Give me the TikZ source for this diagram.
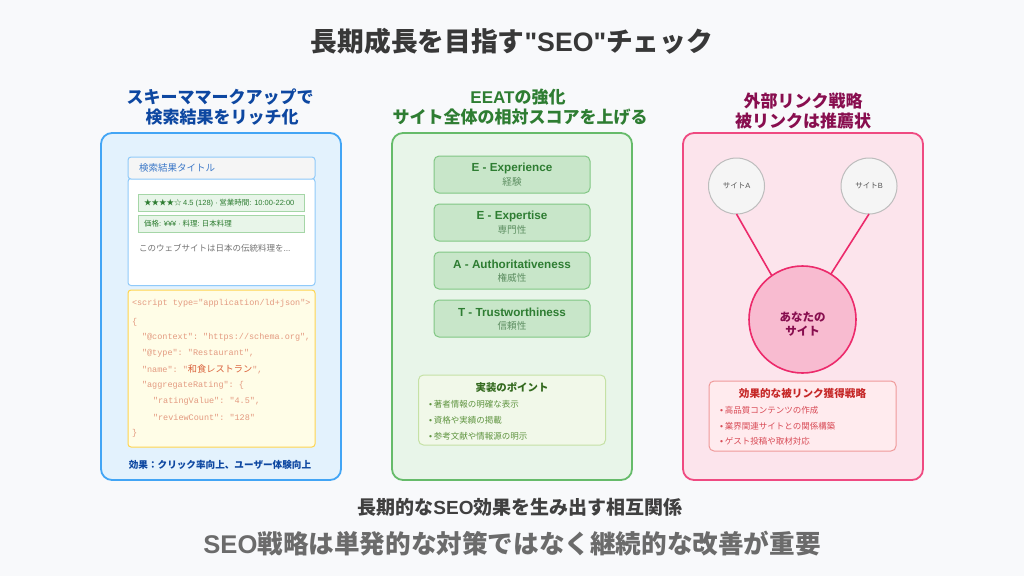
\documentclass[tikz,border=0pt]{standalone}
\usepackage{fontspec}
\setmainfont{Noto Sans CJK JP}
\setmonofont{Liberation Mono}
\newfontfamily\latinfont{Liberation Sans}
\newcommand{\ltn}[1]{{\latinfont #1}}
\newcommand{\fsz}[1]{\fontsize{#1}{#1}\selectfont}
\definecolor{pagebg}{HTML}{F8F9FB}
\definecolor{bluedark}{HTML}{0D47A1}
\definecolor{greendark}{HTML}{2E7D32}
\definecolor{pinkdark}{HTML}{880E4F}
\definecolor{pinkline}{HTML}{EC2A6B}
\definecolor{codetext}{HTML}{E39A80}
\definecolor{codename}{HTML}{D9603A}
\definecolor{eeatline}{HTML}{81C784}
\definecolor{eeatfill}{HTML}{C8E6C9}
\definecolor{eeatsubc}{HTML}{5E8F62}
\definecolor{chipline}{HTML}{A5D6A7}
\definecolor{chipfill}{HTML}{E8F5E9}
\definecolor{tipgreenc}{HTML}{5F9440}
\definecolor{tipredc}{HTML}{D84A55}
\definecolor{sitecline}{HTML}{BDBDBD}
\definecolor{sitefill}{HTML}{F5F5F5}
\definecolor{sitetext}{HTML}{555555}
\definecolor{blueline}{HTML}{42A5F5}
\definecolor{bluefill}{HTML}{E3F2FD}
\definecolor{greenline}{HTML}{66BB6A}
\definecolor{greenfill}{HTML}{E8F5E9}
\definecolor{pinkfill}{HTML}{FCE4EC}
\definecolor{resultline}{HTML}{90CAF9}
\definecolor{resulttext}{HTML}{3C78C8}
\definecolor{codeline}{HTML}{FFD54F}
\definecolor{codefill}{HTML}{FFFDE7}
\definecolor{tipsgline}{HTML}{C5E1A5}
\definecolor{tipsgfill}{HTML}{F1F8E9}
\definecolor{tipsgtitle}{HTML}{33691E}
\definecolor{tipsrline}{HTML}{EF9A9A}
\definecolor{tipsrfill}{HTML}{FFEBEE}
\definecolor{tipsrtitle}{HTML}{C62828}
\definecolor{mysitefill}{HTML}{F8BBD0}
\begin{document}
\begin{tikzpicture}[%
    x=1pt,
    y=-1pt,
    every node/.style={inner sep=0pt,outer sep=0pt},
    heading/.style={font=\fsz{17}\bfseries,align=center},
    panel/.style={draw,line width=1.8pt,rounded corners=11pt,minimum width=240pt,minimum height=347pt},
    eeatcard/.style={draw=eeatline,fill=eeatfill,line width=1pt,rounded corners=5pt,minimum width=156pt,minimum height=37pt},
    eeattitle/.style={font=\fsz{11.7}\bfseries,text=greendark},
    eeatsub/.style={font=\fsz{9.6},text=eeatsubc},
    chipbox/.style={draw=chipline,fill=chipfill,line width=.8pt,minimum width=166pt,minimum height=17pt},
    chiptext/.style={font=\fsz{7.5},text=greendark,anchor=west},
    codestyle/.style={font=\ttfamily\fsz{8.5},text=codetext,anchor=west},
    resultframe/.style={draw=resultline,line width=1pt,rounded corners=3pt,minimum width=187pt},
    tipbox/.style={draw,line width=1pt,rounded corners=5pt,minimum width=187pt,minimum height=70pt},
    tipgreen/.style={font=\fsz{8.5},text=tipgreenc,anchor=west},
    tipred/.style={font=\fsz{8.5},text=tipredc,anchor=west},
    sitecircle/.style={circle,draw=sitecline,fill=sitefill,line width=1pt,minimum size=56pt,font=\fsz{7.5},text=sitetext},
    linkline/.style={draw=pinkline,line width=1.6pt}
  ]
  \fill[pagebg] (0,0) rectangle (1024,576);

  \node[font=\fsz{26.7}\bfseries,text=black!78] (title) at (512,41) {長期成長を目指す\ltn{"SEO"}チェック};

  \node[heading,text=bluedark] (headblue1) at (220,97) {スキーママークアップで};
  \node[heading,text=bluedark] (headblue2) at (222,117) {検索結果をリッチ化};
  \node[heading,text=greendark] (headgreen1) at (518,97) {\ltn{EEAT}の強化};
  \node[heading,text=greendark] (headgreen2) at (520,117) {サイト全体の相対スコアを上げる};
  \node[heading,text=pinkdark] (headpink1) at (803,101) {外部リンク戦略};
  \node[heading,text=pinkdark] (headpink2) at (803,121) {被リンクは推薦状};

  \node[panel,draw=blueline,fill=bluefill] (bluepanel) at (221,306.5) {};
  \node[panel,draw=greenline,fill=greenfill] (greenpanel) at (512,306.5) {};
  \node[panel,draw=pinkline!85!white,fill=pinkfill] (pinkpanel) at (803,306.5) {};

  % search result
  \node[resultframe,fill=white,minimum height=107pt] (resultbox) at (221.5,232) {};
  \node[resultframe,fill=sitefill,minimum height=22pt] (resulthead) at (221.5,168) {};
  \node[font=\fsz{9.5},text=resulttext,anchor=west] (resulttitle) at (139,168) {検索結果タイトル};
  \node[chipbox] (chip1) at (221,202.5) {};
  \node[chipbox] (chip2) at (221,223.5) {};
  \node[chiptext] (chiptext1) at (144,203) {★★★★☆ \ltn{4.5 (128) ·} 営業時間\ltn{: 10:00-22:00}};
  \node[chiptext] (chiptext2) at (144,224) {価格\ltn{: ¥¥¥ ·} 料理\ltn{:} 日本料理};
  \node[font=\fsz{8.5},text=black!55,anchor=west] (snippet) at (139,248) {このウェブサイトは日本の伝統料理を\ltn{...}};

  % code
  \node[draw=codeline,fill=codefill,line width=1pt,rounded corners=3pt,minimum width=187pt,minimum height=157pt] (codebox) at (221.5,368.5) {};
  \node[codestyle] (code1) at (132,303) {<script type="application/ld+json">};
  \node[codestyle] (code2) at (132,322) {\{};
  \node[codestyle] (code3) at (142,337) {"@context": "https://schema.org",};
  \node[codestyle] (code4) at (142,353) {"@type": "Restaurant",};
  \node[codestyle] (code5) at (142,369) {"name": "{\rmfamily\color{codename}\fsz{9.2}和食レストラン}",};
  \node[codestyle] (code6) at (142,385) {"aggregateRating": \{};
  \node[codestyle] (code7) at (153,401) {"ratingValue": "4.5",};
  \node[codestyle] (code8) at (153,417) {"reviewCount": "128"};
  \node[codestyle] (code9) at (132,433) {\}};
  \node[font=\fsz{9.6}\bfseries,text=bluedark] (bluenote) at (220,465) {効果：クリック率向上、ユーザー体験向上};

  % eeat
  \node[eeatcard] (card1) at (512,174.5) {};
  \node[eeatcard] (card2) at (512,222.5) {};
  \node[eeatcard] (card3) at (512,270.5) {};
  \node[eeatcard] (card4) at (512,318.5) {};
  \node[eeattitle] (cardtitle1) at (512,168) {\ltn{E - Experience}};
  \node[eeatsub] (cardsub1) at (512,181.5) {経験};
  \node[eeattitle] (cardtitle2) at (512,216) {\ltn{E - Expertise}};
  \node[eeatsub] (cardsub2) at (512,229.5) {専門性};
  \node[eeattitle] (cardtitle3) at (512,264) {\ltn{A - Authoritativeness}};
  \node[eeatsub] (cardsub3) at (512,277.5) {権威性};
  \node[eeattitle] (cardtitle4) at (512,312) {\ltn{T - Trustworthiness}};
  \node[eeatsub] (cardsub4) at (512,325.5) {信頼性};

  \node[tipbox,draw=tipsgline,fill=tipsgfill] (tipsgreen) at (512,410) {};
  \node[font=\fsz{10.4}\bfseries,text=tipsgtitle] (tipsgreentitle) at (512,387) {実装のポイント};
  \node[tipgreen] (tipg1) at (429,404.5) {\ltn{•} 著者情報の明確な表示};
  \node[tipgreen] (tipg2) at (429,420.5) {\ltn{•} 資格や実績の掲載};
  \node[tipgreen] (tipg3) at (429,436.5) {\ltn{•} 参考文献や情報源の明示};

  % links
  \node[sitecircle] (sitea) at (736.5,186) {サイト\ltn{A}};
  \node[sitecircle] (siteb) at (869,186) {サイト\ltn{B}};
  \node[circle,draw=pinkline,fill=mysitefill,line width=1.6pt,minimum size=107pt] (mysite) at (802.5,319.5) {};
  \node[font=\fsz{11.5}\bfseries,text=pinkdark,align=center] (mysitelabel) at (802.5,324) {あなたの\\[2pt]サイト};
  \path[linkline] (sitea.south) -- (mysite.125);
  \path[linkline] (siteb.south) -- (mysite.58);

  \node[tipbox,draw=tipsrline,fill=tipsrfill] (tipspink) at (802.5,416) {};
  \node[font=\fsz{10.6}\bfseries,text=tipsrtitle] (tipspinktitle) at (802.5,393) {効果的な被リンク獲得戦略};
  \node[tipred] (tipr1) at (720,410.5) {\ltn{•} 高品質コンテンツの作成};
  \node[tipred] (tipr2) at (720,426.5) {\ltn{•} 業界関連サイトとの関係構築};
  \node[tipred] (tipr3) at (720,441.5) {\ltn{•} ゲスト投稿や取材対応};

  \node[font=\fsz{19}\bfseries,text=black!75] (synergy) at (520,507) {長期的な\ltn{SEO}効果を生み出す相互関係};
  \node[font=\fsz{25.6}\bfseries,text=black!58] (closing) at (512,544) {\ltn{SEO}戦略は単発的な対策ではなく継続的な改善が重要};
\end{tikzpicture}
\end{document}
